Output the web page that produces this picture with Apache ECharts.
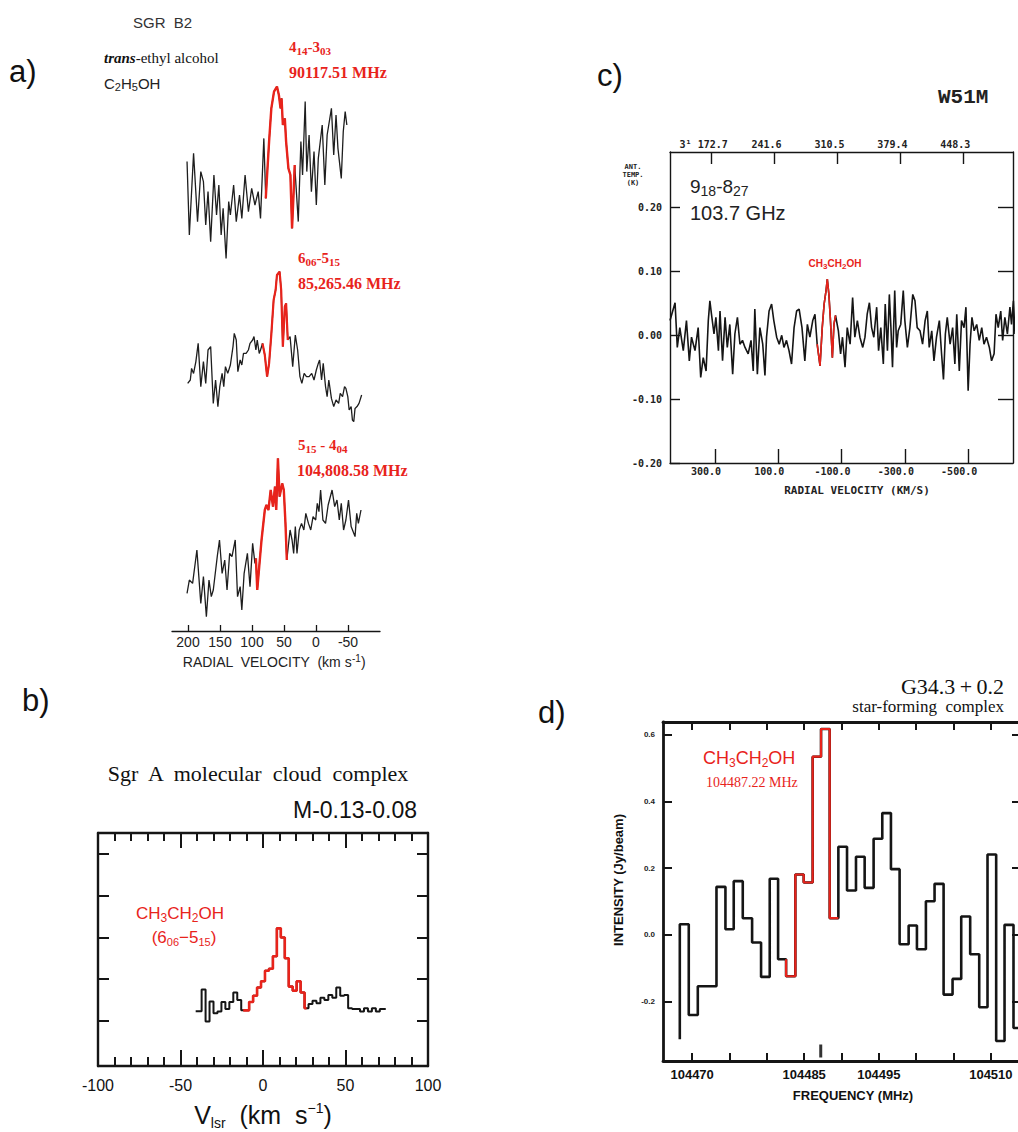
<!DOCTYPE html>
<html>
<head>
<meta charset="utf-8">
<script src="https://cdn.jsdelivr.net/npm/echarts@6/dist/echarts.min.js"></script>
<style>
  html, body { margin: 0; padding: 0; background: #fff; }
  #chart { width: 1018px; height: 1132px; }
</style>
</head>
<body>
<div id="chart"></div>
<script>
// ---------- a) Sgr B2, trans-ethyl alcohol, three transitions (relative intensity vs radial velocity, km/s)
const aVel1 = [201.5,197.9,191.3,185.1,180.0,175.9,172.3,168.7,164.6,159.5,155.4,151.8,148.2,145.1,140.5,136.4,133.8,128.7,124.6,119.5,115.9,110.8,105.6,100.5,95.4,90.3,86.7,81.5,78.5,76.4,73.3,69.8,65.6,61.0,58.0,55.4,53.8,51.8,48.7,46.7,43.1,40.0,37.4,34.9,33.3,31.3,27.7,23.6,21.0,16.9,14.4,10.8,7.2,3.1,-0.5,-3.6,-9.7,-13.8,-17.4,-24.1,-27.7,-31.3,-34.3,-39.5,-42.6,-45.6,-48.2];
const aInt1 = [56.7,20,60.8,26.7,51.7,46.7,25,41.7,16.7,50,30,45,20,33.3,8.3,36.7,30,45,26.7,40,28.3,50,31.7,43.3,35,41.7,28.3,68.3,38.3,50,66.7,83.3,91.7,94.2,90,83.3,88.3,75,78.3,66.7,53.3,50,23.3,41.7,55,45,26.7,66.7,50,86.7,51.7,70,41.7,61.7,35,58.3,75,45,70,83.3,60,80,63.3,48.3,71.7,81.7,75];
const aLine1 = [33, 78.5];

const aVel2 = [200.5,196.4,194.4,191.3,187.7,184.1,180.0,175.9,172.3,168.7,164.6,160.5,156.9,153.3,150.3,146.7,144.1,141.5,137.9,133.8,129.7,127.7,124.6,122.1,118.5,115.9,113.3,109.2,105.6,103.1,99.0,96.9,93.9,91.8,88.7,86.7,83.6,80.0,76.4,73.3,69.7,66.2,63.1,61.0,56.9,54.4,51.8,48.7,46.7,44.1,40.5,36.4,32.3,28.7,25.1,22.1,18.5,14.9,10.8,6.7,3.1,-0.5,-3.6,-5.6,-8.7,-11.3,-14.9,-17.4,-20.0,-24.1,-27.7,-31.3,-35.4,-37.9,-41.5,-44.6,-46.7,-49.7,-51.8,-54.9,-56.9,-59.0,-61.0,-64.1,-67.2,-71.3];
const aInt2 = [35.8,37.5,43.3,40.8,46.7,55.8,34.2,46.7,35.8,52.5,54.2,25.8,37.5,24.2,34.2,40.8,34.2,44.2,40.8,45,54.2,60.8,57.5,41.7,47.5,45,50.8,50.8,52.5,55.8,57.5,59.2,52.5,57.5,50.8,52.5,55.8,50,39.2,45.8,60.8,77.5,82.5,90,91.7,82.5,54.2,74.2,75.8,57.5,59.2,44.2,60,52.5,39.2,35.8,40.8,39.2,39.2,40.8,37.5,42.5,45.8,47.5,37.5,45.8,34.2,29.2,37.5,28.3,24.2,27.5,25.8,30.8,29.2,34.2,33.3,29.2,22.5,24.2,17.5,16.7,23.3,24.2,25.8,30];
const aLine2 = [44, 84];

const aVel3 = [201.5,197.9,192.8,186.1,180.0,175.9,171.3,167.2,163.6,160.5,154.3,150.8,146.7,142.6,139.0,134.9,131.3,126.2,122.6,118.5,115.9,112.3,107.2,103.1,99.0,95.4,93.9,91.8,88.7,85.1,80.0,77.4,74.3,70.8,67.2,64.1,62.1,59.5,56.9,52.8,50.3,47.7,45.6,40.5,37.4,34.9,32.3,29.7,26.2,22.6,19.0,15.9,11.8,8.2,4.6,0.5,-2.0,-4.6,-7.2,-10.8,-14.9,-19.0,-25.1,-29.2,-32.8,-36.4,-39.5,-43.1,-46.7,-50.8,-54.9,-61.0,-63.6,-66.2,-70.3];
const aInt3 = [18.8,25.5,23.8,40.5,13.8,27.2,7.2,25.5,17.2,20.5,37.2,45.5,28.8,35.5,20.5,38.8,37.2,45.5,17.2,22.2,10.5,28.8,38.8,22.2,43.8,33.8,36.3,20.5,32.2,45.5,60.5,63,60.5,70.5,62.2,72.2,60.5,86.3,67.2,73.8,70.5,53.8,35.5,50.5,45.5,38.8,52.2,38.8,50.5,53.8,50.5,58.8,53.8,50.5,57.2,55.5,63.8,59.7,70.5,55.5,53.8,63,70.5,62.2,65.5,55.5,63.8,50.5,55.5,65.5,52.2,47.2,58.8,53.8,60.5];
const aLine3 = [45.6, 93.9];
const aTicks = [200, 150, 100, 50, 0, -50];

// ---------- c) W51M, 9(1,8)-8(2,7) at 103.7 GHz (antenna temperature, K)
const cVel = [442,426,419,411,400,390,381,374,363,353,
  345,337,328,321,316,311,303,297,289,284,
  276,268,261,253,244,237,229,221,213,205,
  195,186,179,174,166,158,149,142,137,129,
  121,114,105,97,89,82,74,66,58,50,
  42,34,25,16,8,0,-9,-16,-23,-32,
  -39,-45,-51,-55,-60,-65,-71,-76,-81,-90,
  -97,-103,-111,-118,-127,-135,-142,-150,-158,-167,
  -174,-181,-188,-195,-202,-211,-217,-224,-232,-238,
  -245,-251,-256,-261,-268,-274,-279,-287,-295,-300,
  -308,-316,-325,-332,-339,-348,-356,-364,-371,-377,
  -385,-392,-400,-409,-416,-422,-428,-434,-443,-451,
  -458,-464,-472,-479,-487,-493,-500,-506,-512,-519,
  -527,-535,-543,-550,-558,-567,-574,-582,-588,-595,
  -603,-609,-616,-624,-632,-637,-643,-648];
const cTa = [0.023,0.051,-0.019,0.012,-0.024,0.023,-0.040,-0.003,-0.024,0.012,
  -0.066,-0.035,-0.056,0.023,0.054,0.033,0.002,0.028,-0.024,0.038,
  -0.040,0.028,-0.019,0.017,-0.061,0.002,0.028,-0.014,-0.008,-0.019,
  -0.029,-0.008,-0.056,0.041,-0.061,0.012,-0.014,-0.063,-0.003,0.038,
  0.049,0.023,-0.003,-0.014,0.000,-0.019,-0.008,-0.024,-0.045,0.012,
  0.038,0.041,0.012,-0.040,0.017,-0.003,0.023,0.033,-0.014,-0.048,
  0.012,0.049,0.070,0.088,0.064,0.023,-0.035,0.017,0.031,0.007,
  -0.029,-0.003,-0.050,0.012,-0.014,0.059,-0.003,0.023,-0.003,-0.019,
  -0.003,0.033,0.051,0.012,-0.003,0.044,-0.024,0.012,-0.045,0.049,
  -0.024,0.064,0.012,-0.050,0.070,-0.019,0.007,0.017,0.070,0.023,
  -0.019,0.012,0.064,0.054,0.012,0.007,-0.014,0.023,0.038,-0.019,
  0.007,-0.040,-0.003,0.023,-0.029,-0.069,0.002,0.028,-0.014,0.012,
  -0.045,0.033,-0.056,0.023,0.012,0.044,-0.087,-0.014,0.028,0.007,
  0.017,-0.008,0.012,-0.014,-0.003,-0.019,-0.040,-0.029,0.033,0.012,
  0.038,-0.008,0.028,0.002,0.044,0.017,0.054,0.002];
const cLine = [-81, -23];
const cVelTicks = [300, 100, -100, -300, -500];
const cTopTicks = [172.7, 241.6, 310.5, 379.4, 448.3];
const cTempTicks = [-0.2, -0.1, 0, 0.1, 0.2];

// ---------- b) Sgr A, M-0.13-0.08, 6(0,6)-5(1,5) (channel centres, km/s)
const bVel = [-40.8,-38.4,-36.0,-33.6,-31.2,-28.8,-26.4,-24.0,-21.6,-19.2,-16.8,-14.4,-12.0,-9.6,-7.2,-4.8,-2.4,0.0,2.4,4.8,7.2,9.6,12.0,14.4,16.8,19.2,21.6,24.0,26.4,28.8,31.2,33.6,36.0,38.4,40.8,43.2,45.6,48.0,50.4,52.8,55.2,57.6,60.0,62.4,64.8,67.2,69.6,72.0,74.4];
const bTa = [0.23,0.23,0.75,-0.02,0.46,0.18,0.22,0.45,0.28,0.45,0.68,0.50,0.25,0.25,0.45,0.60,0.80,0.95,1.20,1.25,1.55,2.22,2.00,1.50,0.82,0.72,0.95,0.68,0.30,0.40,0.48,0.42,0.55,0.50,0.62,0.55,0.80,0.60,0.62,0.30,0.28,0.28,0.22,0.30,0.22,0.30,0.22,0.28,0.28];
const bLine = [-12.0, 26.4];
const bLevelTicks = [0, 1, 2, 3, 4];

// ---------- d) G34.3+0.2 (channel upper edges, MHz; intensity Jy/beam)
const dFreq = [104468.35,104469.55,104470.76,104472.01,104473.26,104474.46,104475.57,104476.78,104478.03,104479.23,104480.39,104481.51,104482.58,104483.82,104484.94,104486.14,104487.26,104488.42,104489.58,104490.74,104491.94,104493.10,104494.30,104495.46,104496.62,104497.78,104498.99,104500.10,104501.30,104502.46,104503.67,104504.87,104506.03,104507.23,104508.44,104509.55,104510.71,104511.83,104513.03,104514.24];
const dFlux = [-0.313,0.032,-0.240,-0.154,-0.154,0.144,0.017,0.161,0.050,-0.023,-0.126,0.168,-0.073,-0.124,0.181,0.157,0.534,0.617,0.050,0.264,0.133,0.234,0.141,0.288,0.365,0.197,-0.028,0.028,-0.043,0.101,0.153,-0.179,-0.132,0.055,-0.058,-0.217,0.241,-0.318,0.030,-0.279];
const dLine = [104482.58, 104489.58];
const dRest = 104487.22;
const dFreqTicks = [104470,104475,104480,104485,104490,104495,104500,104505,104510];
const dFreqLabels = [104470, 104485, 104495, 104510];
const dFluxTicks = [-0.2, 0, 0.2, 0.4, 0.6];

// ---------- helpers
const RED = '#e8231b';
const INK = '#151515';
const SANS = 'Liberation Sans';
const SERIF = 'Liberation Serif';
const MONO = 'Liberation Mono';
const DOT = 'DejaVu Sans Mono';

function pairs(xs, ys) { return xs.map((x, i) => [x, ys[i]]); }
function within(xs, ys, range) {
  return pairs(xs, ys).filter(p => p[0] >= range[0] && p[0] <= range[1]);
}
function line(xi, yi, data, color, width, step) {
  return {
    type: 'line', xAxisIndex: xi, yAxisIndex: yi, data: data,
    step: step || false, symbol: 'none', showSymbol: false, silent: true,
    lineStyle: { color: color, width: width }
  };
}
function hiddenX(gi, min, max, inverse) {
  return { gridIndex: gi, type: 'value', min: min, max: max, inverse: !!inverse, show: false };
}
function hiddenY(gi) {
  return { gridIndex: gi, type: 'value', min: 0, max: 100, show: false };
}
function frameAxis(gi, pos, min, max, o) {
  o = o || {};
  const ax = {
    gridIndex: gi, type: 'value', position: pos, min: min, max: max,
    inverse: !!o.inverse,
    axisLine: { show: true, onZero: false, lineStyle: { color: INK, width: o.lineWidth || 1.5 } },
    axisTick: {
      show: o.ticks !== false, inside: true, length: o.tickLen || 8,
      lineStyle: { color: INK, width: o.tickWidth || o.lineWidth || 1.5 }
    },
    axisLabel: { show: false },
    splitLine: { show: false },
    minorTick: { show: false },
    minorSplitLine: { show: false }
  };
  if (o.interval) ax.interval = o.interval;
  if (o.tickValues) ax.axisTick.customValues = o.tickValues;
  if (o.minor) ax.minorTick = { show: true, splitNumber: o.minor, length: o.minorLen, lineStyle: { color: INK, width: o.tickWidth || o.lineWidth } };
  if (o.label) ax.axisLabel = Object.assign({ show: true }, o.label);
  return ax;
}
function richSet(size, family, weight, color, small, fontStyle) {
  const base = { fontSize: size, fontFamily: family, fontWeight: weight, fontStyle: fontStyle || 'normal', fill: color, color: color, lineHeight: size + 4 };
  const sm = { fontSize: small, fontFamily: family, fontWeight: weight, fontStyle: fontStyle || 'normal', fill: color, color: color, lineHeight: small };
  return {
    n: base,
    s: Object.assign({}, sm, { verticalAlign: 'bottom' }),
    p: Object.assign({}, sm, { verticalAlign: 'top' })
  };
}
function text(x, y, str, font, color, align, extra) {
  return Object.assign({
    type: 'text', x: x, y: y, silent: true,
    style: { text: str, font: font, fill: color, align: align || 'left', verticalAlign: 'middle' }
  }, extra || {});
}
function rich(x, y, str, richDef, align, extra) {
  return Object.assign({
    type: 'text', x: x, y: y, silent: true,
    style: { text: str, rich: richDef, align: align || 'left', verticalAlign: 'middle', fill: richDef.n.fill, font: richDef.n.fontSize + 'px "' + richDef.n.fontFamily + '"' }
  }, extra || {});
}

const chart = echarts.init(document.getElementById('chart'), null, { renderer: 'svg', width: 1018, height: 1132 });

const option = {
  backgroundColor: '#ffffff',
  animation: false,
  grid: [
    { left: 172, top: 75, width: 208, height: 200, outerBoundsMode: 'none' },   // a, upper
    { left: 172, top: 255, width: 208, height: 200, outerBoundsMode: 'none' },  // a, middle
    { left: 172, top: 431, width: 208, height: 200, outerBoundsMode: 'none' },  // a, lower + axis
    { left: 670, top: 152, width: 343, height: 311, outerBoundsMode: 'none' },  // c
    { left: 98, top: 833, width: 330, height: 233, outerBoundsMode: 'none' },   // b
    { left: 663, top: 722, width: 357, height: 339, outerBoundsMode: 'none' }   // d
  ],
  xAxis: [
    hiddenX(0, -100, 225, true),
    hiddenX(1, -100, 225, true),
    frameAxis(2, 'bottom', -100, 225, {
      inverse: true, lineWidth: 1.3, tickLen: 6, tickValues: aTicks,
      label: { customValues: aTicks, formatter: v => String(v), fontSize: 14, fontFamily: SANS, color: '#222', margin: 4 }
    }),
    frameAxis(3, 'bottom', -641.7, 442, {
      inverse: true, lineWidth: 1.4, tickLen: 14, tickValues: cVelTicks,
      label: { customValues: cVelTicks, formatter: v => v.toFixed(1), fontSize: 10, fontFamily: DOT, fontWeight: 'bold', color: '#222', margin: 3, padding: [0, 18, 0, 0] }
    }),
    frameAxis(3, 'top', 127.1, 502.7, {
      lineWidth: 1.4, tickLen: 12, tickValues: cTopTicks,
      label: { customValues: cTopTicks, formatter: v => (v === 172.7 ? '3\u00b9 172.7' : v.toFixed(1)), fontSize: 10, fontFamily: DOT, fontWeight: 'bold', color: '#222', margin: 3, padding: [0, 16, 0, 0] }
    }),
    frameAxis(4, 'bottom', -100, 100, {
      interval: 50, lineWidth: 2.4, tickLen: 16, minor: 5, minorLen: 9, tickWidth: 2,
      label: { formatter: v => String(v), fontSize: 16, fontFamily: SANS, color: '#111', margin: 11 }
    }),
    frameAxis(4, 'top', -100, 100, { interval: 50, lineWidth: 2.4, tickLen: 15, minor: 5, minorLen: 8, tickWidth: 2 }),
    frameAxis(5, 'bottom', 104466.1, 104513.9, {
      lineWidth: 2.8, tickLen: 8, tickWidth: 2, tickValues: dFreqTicks,
      label: { customValues: dFreqLabels, formatter: v => String(v), fontSize: 13, fontWeight: 'bold', fontFamily: SANS, color: '#111', margin: 7 }
    }),
    frameAxis(5, 'top', 104466.1, 104513.9, { lineWidth: 2.8, tickLen: 8, tickWidth: 2, tickValues: dFreqTicks })
  ],
  yAxis: [
    hiddenY(0),
    hiddenY(1),
    hiddenY(2),
    frameAxis(3, 'left', -0.2, 0.287, {
      lineWidth: 1.4, tickLen: 10, tickValues: cTempTicks,
      label: { customValues: cTempTicks, formatter: v => v.toFixed(2), fontSize: 10, fontFamily: DOT, fontWeight: 'bold', color: '#222', margin: 8 }
    }),
    frameAxis(3, 'right', -0.2, 0.287, { lineWidth: 1.4, tickLen: 15, tickValues: [-0.1, 0, 0.1, 0.2] }),
    frameAxis(4, 'left', -1.087, 4.51, { lineWidth: 2.4, tickLen: 11, tickWidth: 2, tickValues: bLevelTicks }),
    frameAxis(4, 'right', -1.087, 4.51, { lineWidth: 2.4, tickLen: 11, tickWidth: 2, tickValues: bLevelTicks }),
    frameAxis(5, 'left', -0.378, 0.638, {
      lineWidth: 2.8, tickLen: 9, tickWidth: 2, tickValues: dFluxTicks,
      label: { customValues: dFluxTicks, formatter: v => v.toFixed(1), fontSize: 8, fontWeight: 'bold', fontFamily: SANS, color: '#222', margin: 8 }
    }),
    frameAxis(5, 'right', -0.378, 0.638, { lineWidth: 2.8, tickLen: 8, tickWidth: 2, tickValues: dFluxTicks })
  ],
  series: [
    line(0, 0, pairs(aVel1, aInt1), '#1e1e1e', 1.3),
    line(0, 0, within(aVel1, aInt1, aLine1), RED, 2.4),
    line(1, 1, pairs(aVel2, aInt2), '#1e1e1e', 1.3),
    line(1, 1, within(aVel2, aInt2, aLine2), RED, 2.2),
    line(2, 2, pairs(aVel3, aInt3), '#1e1e1e', 1.3),
    line(2, 2, within(aVel3, aInt3, aLine3), RED, 2.4),

    line(3, 3, pairs(cVel, cTa), INK, 1.6),
    line(3, 3, within(cVel, cTa, cLine), RED, 1.6),

    line(5, 5, pairs(bVel, bTa), INK, 2, 'middle'),
    line(5, 5, within(bVel, bTa, bLine), RED, 2.6, 'middle'),

    line(7, 7, pairs(dFreq, dFlux), INK, 2.6, 'start'),
    line(7, 7, within(dFreq, dFlux, dLine), RED, 2.2, 'start'),
    {
      // rest-frequency marker on the frequency axis
      type: 'scatter', xAxisIndex: 7, yAxisIndex: 7, silent: true,
      data: [[dRest, -0.378]], symbol: 'rect', symbolSize: [3, 13], symbolOffset: [0, -10],
      itemStyle: { color: '#000' }
    }
  ],
  graphic: [
    // a)
    text(9, 71, 'a)', '31px "' + SANS + '"', '#111'),
    text(133, 22, 'SGR  B2', '15px "' + SANS + '"', '#333'),
    rich(104, 58, '{i|trans}{n|-ethyl alcohol}', {
      n: { fontSize: 15, fontFamily: SERIF, fill: '#111', color: '#111' },
      i: { fontSize: 15, fontFamily: SERIF, fontStyle: 'italic', fontWeight: 'bold', fill: '#111', color: '#111' }
    }),
    rich(104, 83, '{n|C}{s|2}{n|H}{s|5}{n|OH}', richSet(15, SANS, 'normal', '#222', 11)),
    rich(289, 47, '{n|4}{s|14}{n|-3}{s|03}', richSet(15, SERIF, 'bold', RED, 11)),
    text(289, 72, '90117.51 MHz', 'bold 16px "' + SERIF + '"', RED),
    rich(298, 258, '{n|6}{s|06}{n|-5}{s|15}', richSet(15, SERIF, 'bold', RED, 11)),
    text(298, 283, '85,265.46 MHz', 'bold 16px "' + SERIF + '"', RED),
    rich(298, 445, '{n|5}{s|15}{n| - 4}{s|04}', richSet(15, SERIF, 'bold', RED, 11)),
    text(297, 470, '104,808.58 MHz', 'bold 16px "' + SERIF + '"', RED),
    rich(274, 662, '{n|RADIAL  VELOCITY  (km s}{p|-1}{n|)}', richSet(14, SANS, 'normal', '#222', 10), 'center'),

    // c)
    text(597, 75, 'c)', '31px "' + SANS + '"', '#111'),
    text(938, 97, 'W51M', 'bold 21px "' + MONO + '"', '#222'),
    text(633, 167, 'ANT.', 'bold 7px "' + DOT + '"', '#222', 'center'),
    text(633, 175, 'TEMP.', 'bold 7px "' + DOT + '"', '#222', 'center'),
    text(633, 183, '(K)', 'bold 7px "' + DOT + '"', '#222', 'center'),
    rich(690, 186, '{n|9}{s|18}{n|-8}{s|27}', richSet(19, SANS, 'normal', '#222', 14)),
    text(690, 213, '103.7 GHz', '20px "' + SANS + '"', '#222'),
    rich(835, 263, '{n|CH}{s|3}{n|CH}{s|2}{n|OH}', richSet(10, SANS, 'bold', RED, 8), 'center'),
    text(857, 490, 'RADIAL VELOCITY (KM/S)', 'bold 11px "' + DOT + '"', '#222', 'center'),

    // b)
    text(22, 700, 'b)', '31px "' + SANS + '"', '#111'),
    text(258, 773, 'Sgr  A  molecular  cloud  complex', '22px "' + SERIF + '"', '#111', 'center'),
    text(417, 810, 'M-0.13-0.08', '23px "' + SANS + '"', '#111', 'right'),
    rich(136, 913, '{n|CH}{s|3}{n|CH}{s|2}{n|OH}', richSet(17, SANS, 'normal', RED, 12)),
    rich(184, 937, '{n|(6}{s|06}{n|\u22125}{s|15}{n|)}', richSet(17, SANS, 'normal', RED, 11), 'center'),
    rich(263, 1115, '{n|V}{s|lsr}{n|  (km  s}{p|\u22121}{n|)}', richSet(25, SANS, 'normal', '#111', 14), 'center'),

    // d)
    text(538, 712, 'd)', '31px "' + SANS + '"', '#111'),
    text(1004, 686, 'G34.3\u2009+\u20090.2', '22px "' + SERIF + '"', '#111', 'right'),
    text(1004, 706, 'star-forming  complex', '17px "' + SERIF + '"', '#111', 'right'),
    rich(703, 758, '{n|CH}{s|3}{n|CH}{s|2}{n|OH}', richSet(18, SANS, 'normal', RED, 12)),
    text(706, 782, '104487.22 MHz', '14px "' + SERIF + '"', RED),
    text(618, 880, 'INTENSITY (Jy/beam)', 'bold 13px "' + SANS + '"', '#111', 'center', { rotation: Math.PI / 2 }),
    text(853, 1095, 'FREQUENCY (MHz)', 'bold 13px "' + SANS + '"', '#111', 'center')
  ]
};

chart.setOption(option);
</script>
</body>
</html>
